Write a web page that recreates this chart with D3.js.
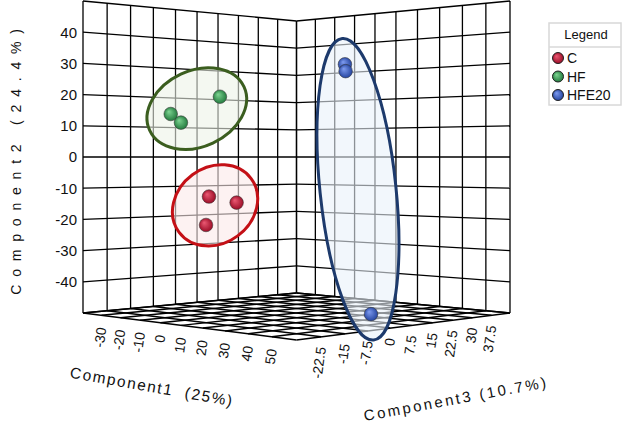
<!DOCTYPE html>
<html>
<head>
<meta charset="utf-8">
<script src="https://cdn.jsdelivr.net/npm/d3@7"></script>
<style>
body { margin: 0; background: #fff; }
text { font-family: "Liberation Sans", Arial, sans-serif; fill: #111; }
</style>
</head>
<body>
<svg width="622" height="424"></svg>
<script>
// PCA scores, one row per group (3 samples each)
const groups = ['C', 'HF', 'HFE20'];
const pc1 = [[-16.7, -8.4, -14.8], [-30.7, -23.0, -11.2], [22.6, 22.9, 47.7]];
const pc2 = [[-12.9, -14.8, -22.0], [14.2, 11.2, 19.5], [29.6, 27.4, -47.2]];
const pc3 = [[-3.75, 0, -6], [-7.5, -9, -3.75], [15, 15, 3.75]];

const ticks1 = [-30, -20, -10, 0, 10, 20, 30, 40, 50];
const ticks2 = [-40, -30, -20, -10, 0, 10, 20, 30, 40];
const ticks3 = ['-22.5', '-15', '-7.5', '0', '7.5', '15', '22.5', '30', '37.5'];

const colors = {
    C:     {hi: '#ec5a74', lo: '#960822', line: '#c41016', fill: '#fbe9ea'},
    HF:    {hi: '#7fd693', lo: '#1d7539', line: '#3b5e1f', fill: '#ecf3e8'},
    HFE20: {hi: '#7f9cf0', lo: '#1f3f9a', line: '#1d3a6c', fill: '#e9f1fa'}
};

const svg = d3.select('svg');

// normalised box coords: u = PC3 along left wall, w = PC1 along right wall, v = PC2 up
const x1 = d3.scaleLinear().domain([-40, 60]).range([0, 1]);
const y2 = d3.scaleLinear().domain([-50, 50]).range([0, 1]);
const z3 = d3.scaleLinear().domain([-30, 45]).range([0, 1]);

// simple perspective camera looking at the box corner
const cx = 296.5, cy = 157, W = 213.5, H = 156, k = 0.147;
function proj(u, w, v) {
    const lat = u + w - 1;
    const s = 1 / (1 + k * (u - w));
    return [cx + W * lat * s, cy + H * (1 - 2 * v) * s];
}
function pt(a, b, c) { return proj(z3(c), x1(a), y2(b)); }

const line = d3.line();
const grid = svg.append('g')
    .attr('fill', 'none').attr('stroke', '#000').attr('stroke-width', 1.3);

const g1 = d3.range(-40, 60.1, 10), g2 = d3.range(-50, 50.1, 10), g3 = d3.range(-30, 45.1, 7.5);

// floor
g1.forEach(a => grid.append('path').attr('d', line([pt(a, -50, -30), pt(a, -50, 45)])).attr('stroke-width', 1.5));
g3.forEach(c => grid.append('path').attr('d', line([pt(-40, -50, c), pt(60, -50, c)])).attr('stroke-width', 1.5));
// left wall (PC1 = min)
g3.forEach(c => grid.append('path').attr('d', line([pt(-40, -50, c), pt(-40, 50, c)])));
g2.forEach(b => grid.append('path').attr('d', line([pt(-40, b, -30), pt(-40, b, 45)])));
// right wall (PC3 = max)
g1.forEach(a => grid.append('path').attr('d', line([pt(a, -50, 45), pt(a, 50, 45)])));
g2.forEach(b => grid.append('path').attr('d', line([pt(-40, b, 45), pt(60, b, 45)])));

// tick labels
ticks2.forEach(b => {
    const p = pt(-40, b, -30);
    svg.append('text').attr('x', p[0] - 6).attr('y', p[1]).attr('dy', '0.36em')
        .attr('text-anchor', 'end').style('font-size', '15px').text(b);
});
ticks1.forEach(a => {
    const p = pt(a, -50, -30);
    svg.append('text').attr('text-anchor', 'end').attr('dy', '0.35em')
        .attr('transform', `translate(${p[0]},${p[1] + 12}) rotate(-82)`)
        .style('font-size', '14px').text(a);
});
ticks3.forEach(c => {
    const p = pt(60, -50, +c);
    svg.append('text').attr('text-anchor', 'end').attr('dy', '0.35em')
        .attr('transform', `translate(${p[0]},${p[1] + 10}) rotate(-82)`)
        .style('font-size', '14px').text(c);
});

// axis titles
svg.append('text').attr('text-anchor', 'middle')
    .attr('transform', 'translate(21,158) rotate(-90)')
    .style('font-size', '14px').style('letter-spacing', '7.8px')
    .text('Component2 (24.4%)');
svg.append('text').attr('text-anchor', 'middle')
    .attr('transform', 'translate(151,392) rotate(10)')
    .style('font-size', '15.5px').style('letter-spacing', '1.6px').style('white-space', 'pre')
    .text('Component1  (25%)');
svg.append('text').attr('text-anchor', 'middle')
    .attr('transform', 'translate(457,404) rotate(-10.5)')
    .style('font-size', '15px').style('letter-spacing', '2.5px').style('white-space', 'pre')
    .text('Component3 (10.7%)');

// sphere gradients
const defs = svg.append('defs');
groups.forEach(g => {
    const rg = defs.append('radialGradient').attr('id', 'ball-' + g)
        .attr('cx', '50%').attr('cy', '50%').attr('r', '55%').attr('fx', '35%').attr('fy', '32%');
    rg.append('stop').attr('offset', '0%').attr('stop-color', colors[g].hi);
    rg.append('stop').attr('offset', '100%').attr('stop-color', colors[g].lo);
});

// group points projected
const data = groups.map((g, i) => ({
    group: g,
    pts: pc1[i].map((a, j) => pt(a, pc2[i][j], pc3[i][j]))
}));

// ellipses around each group's projected points
data.forEach(d => {
    const P = d.pts;
    const mx = d3.mean(P, p => p[0]), my = d3.mean(P, p => p[1]);
    let sxx = 0, syy = 0, sxy = 0;
    P.forEach(p => { const dx = p[0] - mx, dy = p[1] - my; sxx += dx * dx; syy += dy * dy; sxy += dx * dy; });
    const th = 0.5 * Math.atan2(2 * sxy, sxx - syy);
    const e1 = [Math.cos(th), Math.sin(th)], e2 = [-Math.sin(th), Math.cos(th)];
    const a1 = P.map(p => (p[0] - mx) * e1[0] + (p[1] - my) * e1[1]);
    const a2 = P.map(p => (p[0] - mx) * e2[0] + (p[1] - my) * e2[1]);
    const m1 = (d3.min(a1) + d3.max(a1)) / 2, m2 = (d3.min(a2) + d3.max(a2)) / 2;
    const ex = mx + e1[0] * m1 + e2[0] * m2, ey = my + e1[1] * m1 + e2[1] * m2;
    const r1 = (d3.max(a1) - d3.min(a1)) / 2 + 26;
    const r2 = Math.max((d3.max(a2) - d3.min(a2)) / 2 + 25, 38);
    svg.append('ellipse')
        .attr('transform', `translate(${ex},${ey}) rotate(${th * 180 / Math.PI})`)
        .attr('rx', r1).attr('ry', r2)
        .attr('fill', colors[d.group].fill).attr('fill-opacity', 0.6)
        .attr('stroke', colors[d.group].line).attr('stroke-width', 3);
});

// points
data.forEach(d => {
    svg.append('g').selectAll('circle').data(d.pts).join('circle')
        .attr('cx', p => p[0]).attr('cy', p => p[1]).attr('r', 6.8)
        .attr('fill', 'url(#ball-' + d.group + ')')
        .attr('stroke', '#333').attr('stroke-opacity', 0.55).attr('stroke-width', 1);
});

// legend
const lg = svg.append('g').attr('transform', 'translate(549,23)');
lg.append('rect').attr('width', 72).attr('height', 82)
    .attr('fill', '#fff').attr('stroke', '#d8d8d8').attr('stroke-width', 1.5);
lg.append('line').attr('x1', 0).attr('x2', 72).attr('y1', 24).attr('y2', 24)
    .attr('stroke', '#d8d8d8').attr('stroke-width', 1.5);
lg.append('text').attr('x', 37).attr('y', 16).attr('text-anchor', 'middle')
    .style('font-size', '13px').text('Legend');
groups.forEach((g, i) => {
    lg.append('circle').attr('cx', 9).attr('cy', 35 + i * 18.5).attr('r', 5.5)
        .attr('fill', 'url(#ball-' + g + ')').attr('stroke', '#222').attr('stroke-width', 1);
    lg.append('text').attr('x', 18).attr('y', 35 + i * 18.5).attr('dy', '0.36em')
        .style('font-size', '14px').text(g);
});
</script>
</body>
</html>
